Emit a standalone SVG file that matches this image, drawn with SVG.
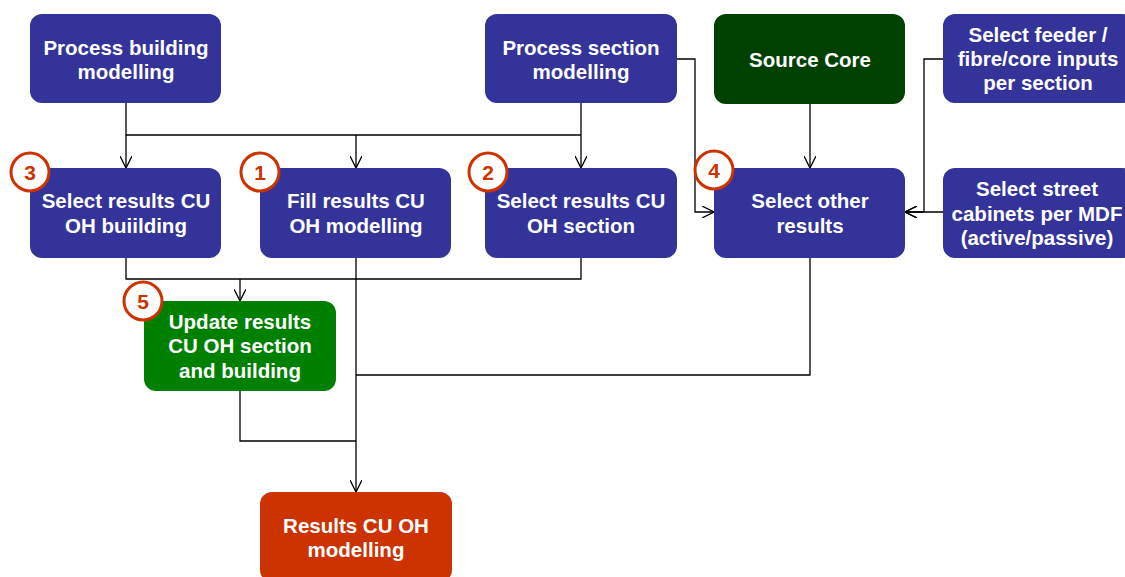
<svg xmlns="http://www.w3.org/2000/svg" width="1125" height="577" viewBox="0 0 1125 577">
<style>
.box{stroke:none}
.blue{fill:#333399}
.dkgreen{fill:#004000}
.green{fill:#008000}
.red{fill:#CC3300}
.lbl{font-family:"Liberation Sans",Arial,sans-serif;font-weight:bold;font-size:20.5px;fill:#ffffff;text-anchor:middle}
.badge circle{fill:#ffffff;stroke:#CC3300;stroke-width:3}
.badge text{font-family:"Liberation Sans",Arial,sans-serif;font-weight:bold;font-size:21px;fill:#CC3300;text-anchor:middle}
.conn{fill:none;stroke:#000000;stroke-width:1.3}
</style>
<defs>
<marker id="arr" viewBox="0 0 12 12" refX="12" refY="6" markerWidth="12" markerHeight="12" markerUnits="userSpaceOnUse" orient="auto">
<path d="M0,0 L12,6 L0,12" fill="none" stroke="#000000" stroke-width="1.3"/>
</marker>
</defs>
<rect width="1125" height="577" fill="#ffffff"/>
<g id="connectors">
<path class="conn" d="M126,103 V135 H581"/>
<path class="conn" d="M581,103 V135"/>
<path class="conn" d="M126,135 V168" marker-end="url(#arr)"/>
<path class="conn" d="M356,135 V168" marker-end="url(#arr)"/>
<path class="conn" d="M581,135 V168" marker-end="url(#arr)"/>
<path class="conn" d="M677,59 H695 V212 H714" marker-end="url(#arr)"/>
<path class="conn" d="M810,104 V168" marker-end="url(#arr)"/>
<path class="conn" d="M943,59 H924 V212 H905" marker-end="url(#arr)"/>
<path class="conn" d="M943,212 H905" marker-end="url(#arr)"/>
<path class="conn" d="M126,258 V279 H581 V258"/>
<path class="conn" d="M240,279 V301" marker-end="url(#arr)"/>
<path class="conn" d="M356,258 V492" marker-end="url(#arr)"/>
<path class="conn" d="M810,258 V375 H356"/>
<path class="conn" d="M240,391 V441 H356"/>
</g>
<g id="process-building">
<rect class="box blue" x="30" y="14" width="191" height="89" rx="12"/>
<text class="lbl" x="126" y="55">Process building</text>
<text class="lbl" x="126" y="79">modelling</text>
</g>
<g id="process-section">
<rect class="box blue" x="485" y="14" width="192" height="89" rx="12"/>
<text class="lbl" x="581" y="55">Process section</text>
<text class="lbl" x="581" y="79">modelling</text>
</g>
<g id="source-core">
<rect class="box dkgreen" x="714" y="14" width="191" height="90" rx="12"/>
<text class="lbl" x="810" y="67">Source Core</text>
</g>
<g id="select-feeder">
<rect class="box blue" x="943" y="14" width="191" height="89" rx="12"/>
<text class="lbl" x="1038" y="42">Select feeder /</text>
<text class="lbl" x="1038" y="66">fibre/core inputs</text>
<text class="lbl" x="1038" y="90">per section</text>
</g>
<g id="select-building">
<rect class="box blue" x="30" y="168" width="191" height="90" rx="12"/>
<text class="lbl" x="126" y="208">Select results CU</text>
<text class="lbl" x="126" y="233">OH buiilding</text>
</g>
<g id="fill-results">
<rect class="box blue" x="260" y="168" width="191" height="90" rx="12"/>
<text class="lbl" x="356" y="208">Fill results CU</text>
<text class="lbl" x="356" y="233">OH modelling</text>
</g>
<g id="select-section">
<rect class="box blue" x="485" y="168" width="192" height="90" rx="12"/>
<text class="lbl" x="581" y="208">Select results CU</text>
<text class="lbl" x="581" y="233">OH section</text>
</g>
<g id="select-other">
<rect class="box blue" x="714" y="168" width="191" height="90" rx="12"/>
<text class="lbl" x="810" y="208">Select other</text>
<text class="lbl" x="810" y="233">results</text>
</g>
<g id="select-cabinets">
<rect class="box blue" x="943" y="168" width="191" height="90" rx="12"/>
<text class="lbl" x="1037" y="196">Select street</text>
<text class="lbl" x="1037" y="221">cabinets per MDF</text>
<text class="lbl" x="1037" y="245">(active/passive)</text>
</g>
<g id="update-results">
<rect class="box green" x="144" y="301" width="192" height="90" rx="12"/>
<text class="lbl" x="240" y="329">Update results</text>
<text class="lbl" x="240" y="353">CU OH section</text>
<text class="lbl" x="240" y="378">and building</text>
</g>
<g id="results-modelling">
<rect class="box red" x="260" y="492" width="192" height="90" rx="12"/>
<text class="lbl" x="356" y="533">Results CU OH</text>
<text class="lbl" x="356" y="557">modelling</text>
</g>
<g id="badge-3" class="badge"><circle cx="30" cy="172" r="19"/><text x="30" y="179.5">3</text></g>
<g id="badge-1" class="badge"><circle cx="260" cy="172" r="19"/><text x="260" y="179.5">1</text></g>
<g id="badge-2" class="badge"><circle cx="488" cy="172" r="19"/><text x="488" y="179.5">2</text></g>
<g id="badge-4" class="badge"><circle cx="714" cy="170" r="19"/><text x="714" y="177.5">4</text></g>
<g id="badge-5" class="badge"><circle cx="143" cy="301" r="19"/><text x="143" y="308.5">5</text></g>
</svg>
